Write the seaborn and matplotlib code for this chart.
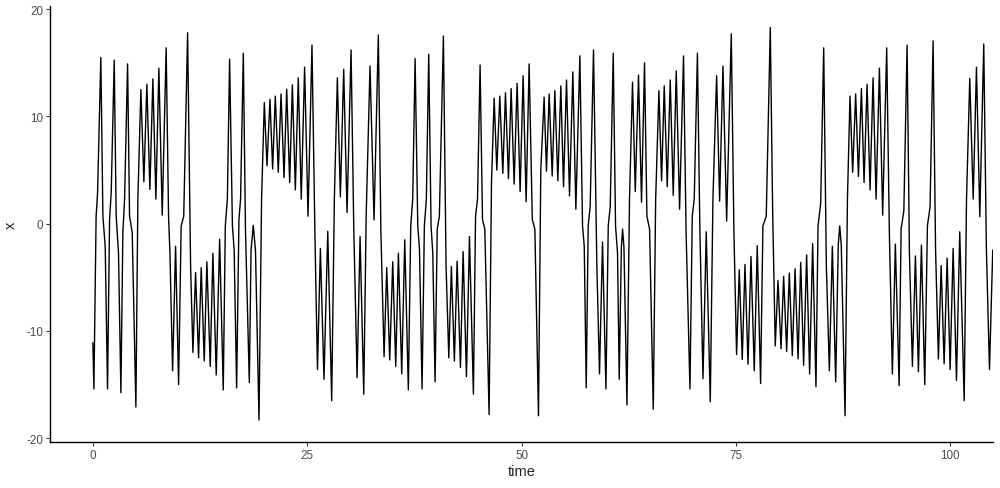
import matplotlib
matplotlib.use("Agg")
import matplotlib.pyplot as plt
import seaborn as sns
import pandas as pd

# values (turning points plus a few shoulders)
time = [
    0.0, 0.12, 0.38, 0.55, 0.93, 1.17, 1.44, 1.71, 1.95, 2.14, 2.49, 2.72, 2.99, 3.27,
    3.5, 3.7, 4.05, 4.28, 4.59, 5.02, 5.25, 5.6, 5.95, 6.3, 6.65, 7.0, 7.35, 7.7, 8.09,
    8.55, 8.83, 8.99, 9.3, 9.65, 10.0, 10.3, 10.6, 11.05, 11.4, 11.67, 11.98, 12.33,
    12.64, 12.99, 13.3, 13.69, 14.0, 14.39, 14.79, 15.21, 15.45, 15.69, 15.95, 16.28,
    16.48, 16.77, 17.04, 17.23, 17.55, 17.8, 18.25, 18.45, 18.71, 18.97, 19.38, 19.68,
    20.0, 20.31, 20.66, 20.97, 21.28, 21.63, 21.95, 22.3, 22.61, 22.96, 23.27, 23.62,
    23.96, 24.31, 24.7, 25.1, 25.56, 25.9, 26.2, 26.54, 26.96, 27.4, 27.86, 28.17,
    28.52, 28.87, 29.26, 29.65, 30.12, 30.43, 30.82, 31.17, 31.6, 31.88, 32.33, 32.8,
    33.3, 33.6, 33.97, 34.28, 34.63, 34.98, 35.33, 35.64, 36.03, 36.38, 36.8, 37.08,
    37.31, 37.59, 37.9, 38.1, 38.4, 38.67, 38.9, 39.18, 39.45, 39.65, 39.92, 40.17,
    40.42, 40.89, 41.2, 41.52, 41.82, 42.17, 42.49, 42.88, 43.19, 43.58, 43.93, 44.39,
    44.64, 44.87, 45.17, 45.45, 45.72, 46.22, 46.5, 46.81, 47.12, 47.47, 47.82, 48.13,
    48.48, 48.79, 49.14, 49.49, 49.84, 50.19, 50.54, 50.89, 51.26, 51.56, 51.98, 52.25,
    52.64, 52.91, 53.23, 53.58, 53.89, 54.24, 54.59, 54.9, 55.25, 55.6, 55.99, 56.34,
    56.81, 57.12, 57.32, 57.55, 57.78, 58.01, 58.4, 58.79, 59.1, 59.45, 59.85, 60.12,
    60.35, 60.7, 60.97, 61.2, 61.4, 61.65, 61.79, 61.95, 62.3, 62.6, 62.95, 63.27,
    63.65, 64.0, 64.35, 64.63, 64.94, 65.37, 65.65, 66.03, 66.34, 66.65, 67.0, 67.35,
    67.7, 68.05, 68.44, 68.9, 69.2, 69.65, 69.92, 70.15, 70.52, 70.8, 71.17, 71.55,
    72.02, 72.33, 72.76, 73.11, 73.5, 73.93, 74.47, 74.78, 75.09, 75.4, 75.75, 76.07,
    76.42, 76.77, 77.15, 77.5, 77.89, 78.16, 78.55, 79.02, 79.3, 79.6, 79.92, 80.27,
    80.58, 80.93, 81.24, 81.59, 81.91, 82.26, 82.57, 82.91, 83.26, 83.61, 83.96, 84.35,
    84.59, 84.9, 85.25, 85.56, 85.91, 86.26, 86.65, 86.95, 87.12, 87.3, 87.74, 88.02,
    88.32, 88.63, 88.98, 89.3, 89.65, 89.96, 90.31, 90.66, 91.01, 91.36, 91.75, 92.13,
    92.6, 92.91, 93.26, 93.61, 94.05, 94.28, 94.6, 94.98, 95.25, 95.6, 95.95, 96.3,
    96.65, 97.04, 97.35, 97.66, 98.01, 98.3, 98.63, 98.95, 99.3, 99.65, 100.0, 100.35,
    100.74, 101.12, 101.64, 101.91, 102.29, 102.69, 103.07, 103.46, 103.92, 104.23,
    104.59, 104.97,
]
x = [
    -11.1, -15.4, 0.7, 2.9, 15.5, 0.7, -2.1, -15.4, 0.4, 2.9, 15.25, 0.7, -2.7, -15.75,
    -0.8, 2.3, 14.9, 0.7, -0.8, -17.1, 2.3, 12.5, 3.9, 13.0, 3.2, 13.5, 2.3, 14.5, 0.8,
    16.4, 0.7, -2.7, -13.7, -2.1, -15.0, -0.2, 0.7, 17.8, -3.9, -12.0, -4.55, -12.5,
    -4.1, -12.8, -3.55, -13.3, -2.75, -14.1, -1.45, -15.5, -0.2, 2.3, 15.35, -0.2,
    -2.4, -15.3, 0.4, 2.3, 15.9, -0.5, -14.8, -2.5, -0.15, -2.5, -18.3, 2.3,
    11.3, 5.4, 11.6, 5.1, 11.9, 4.8, 12.1, 4.3, 12.55, 3.85, 12.95, 3.15,
    13.6, 2.3, 14.6, 0.7, 16.65, -0.8, -13.6, -2.3, -14.5, -0.7, -16.5, 2.3,
    13.6, 2.5, 14.4, 1.05, 16.2, -0.2, -14.35, -1.2, -15.9, 0.7, 14.7, 0.35,
    17.6, -0.8, -12.4, -4.1, -12.7, -3.55, -13.3, -2.75, -14.0, -1.5, -15.5, -0.2,
    2.3, 15.4, -0.2, -2.4, -15.4, -0.2, 2.3, 15.8, -0.2, -2.7, -14.75, -0.5,
    0.7, 17.5, -3.9, -12.5, -4.0, -12.8, -3.5, -13.4, -2.6, -14.25, -1.2, -15.9,
    0.7, 2.3, 14.8, 0.4, -0.5, -17.8, 3.85, 11.7, 5.0, 11.9, 4.7, 12.2,
    4.2, 12.6, 3.7, 13.1, 3.0, 13.8, 2.05, 14.9, 0.4, -0.5, -17.9, 5.0,
    11.8, 4.9, 12.1, 4.45, 12.4, 4.0, 12.85, 3.45, 13.4, 2.6, 14.15, 1.35,
    15.65, -0.2, -2.1, -15.3, -0.2, 1.6, 16.2, -3.9, -14.0, -1.7, -15.4, -0.2,
    1.6, 15.9, -0.2, -2.7, -14.5, -2.2, -0.5, -2.2, -16.9, 2.3, 13.2, 3.0,
    13.85, 2.0, 15.0, 0.7, -0.5, -17.3, 2.3, 12.4, 4.0, 12.85, 3.45, 13.4,
    2.65, 14.25, 1.35, 15.65, -0.8, -15.4, 0.7, 2.3, 15.9, -0.2, -14.45, -0.75,
    -16.6, 2.3, 13.8, 2.1, 14.7, 0.25, 17.7, -0.8, -12.2, -4.3, -12.65, -3.8,
    -13.1, -3.05, -13.7, -2.05, -14.9, -0.2, 0.7, 18.3, 1.0, -11.4, -5.3, -11.65,
    -4.9, -11.9, -4.6, -12.3, -4.2, -12.6, -3.6, -13.2, -2.9, -14.0, -1.85, -15.2,
    -0.2, 1.9, 16.4, -3.9, -13.7, -2.1, -14.75, -2.0, -0.2, -2.0, -17.9, 2.3,
    11.9, 4.8, 12.1, 4.4, 12.6, 3.85, 13.0, 3.15, 13.6, 2.3, 14.5, 0.8,
    16.4, -0.8, -14.0, -1.9, -15.1, -0.5, 1.2, 16.65, -2.7, -13.3, -3.0, -13.8,
    -2.0, -15.0, -0.2, 1.6, 17.05, -2.4, -12.6, -3.9, -13.05, -3.2, -13.6, -2.3,
    -14.6, -0.75, -16.5, 2.3, 13.55, 2.3, 14.6, 0.65, 16.75, -2.4,
    -13.6, -2.45,
]
xticks = [0, 25, 50, 75, 100]
yticks = [-20, -10, 0, 10, 20]

df = pd.DataFrame({"time": time, "x": x})

sns.set_style("ticks")
plt.rcParams["font.family"] = ["Liberation Sans", "DejaVu Sans"]
plt.rcParams["axes.unicode_minus"] = False

fig = plt.figure(figsize=(10, 4.89), dpi=100)
ax = fig.add_axes([0.05, 46 / 489, 0.943, 436 / 489])

sns.lineplot(data=df, x="time", y="x", estimator=None, sort=False,
             color="black", linewidth=1.0, ax=ax)

ax.set_xlim(-5, 105)
ax.set_ylim(-20.35, 20.3)
ax.set_xticks(xticks)
ax.set_yticks(yticks)
ax.tick_params(axis="both", length=2.7, width=0.75, color="#333333",
               labelcolor="#4D4D4D", labelsize=8.4, pad=2.1)
for side in ["top", "right"]:
    ax.spines[side].set_visible(False)
for side in ["left", "bottom"]:
    ax.spines[side].set_linewidth(1.0)
    ax.spines[side].set_color("black")
ax.set_xlabel("time", fontsize=10.6, labelpad=2.5)
ax.set_ylabel("x", fontsize=10.6, labelpad=6)
ax.grid(False)

fig.savefig("out.png", dpi=100)
